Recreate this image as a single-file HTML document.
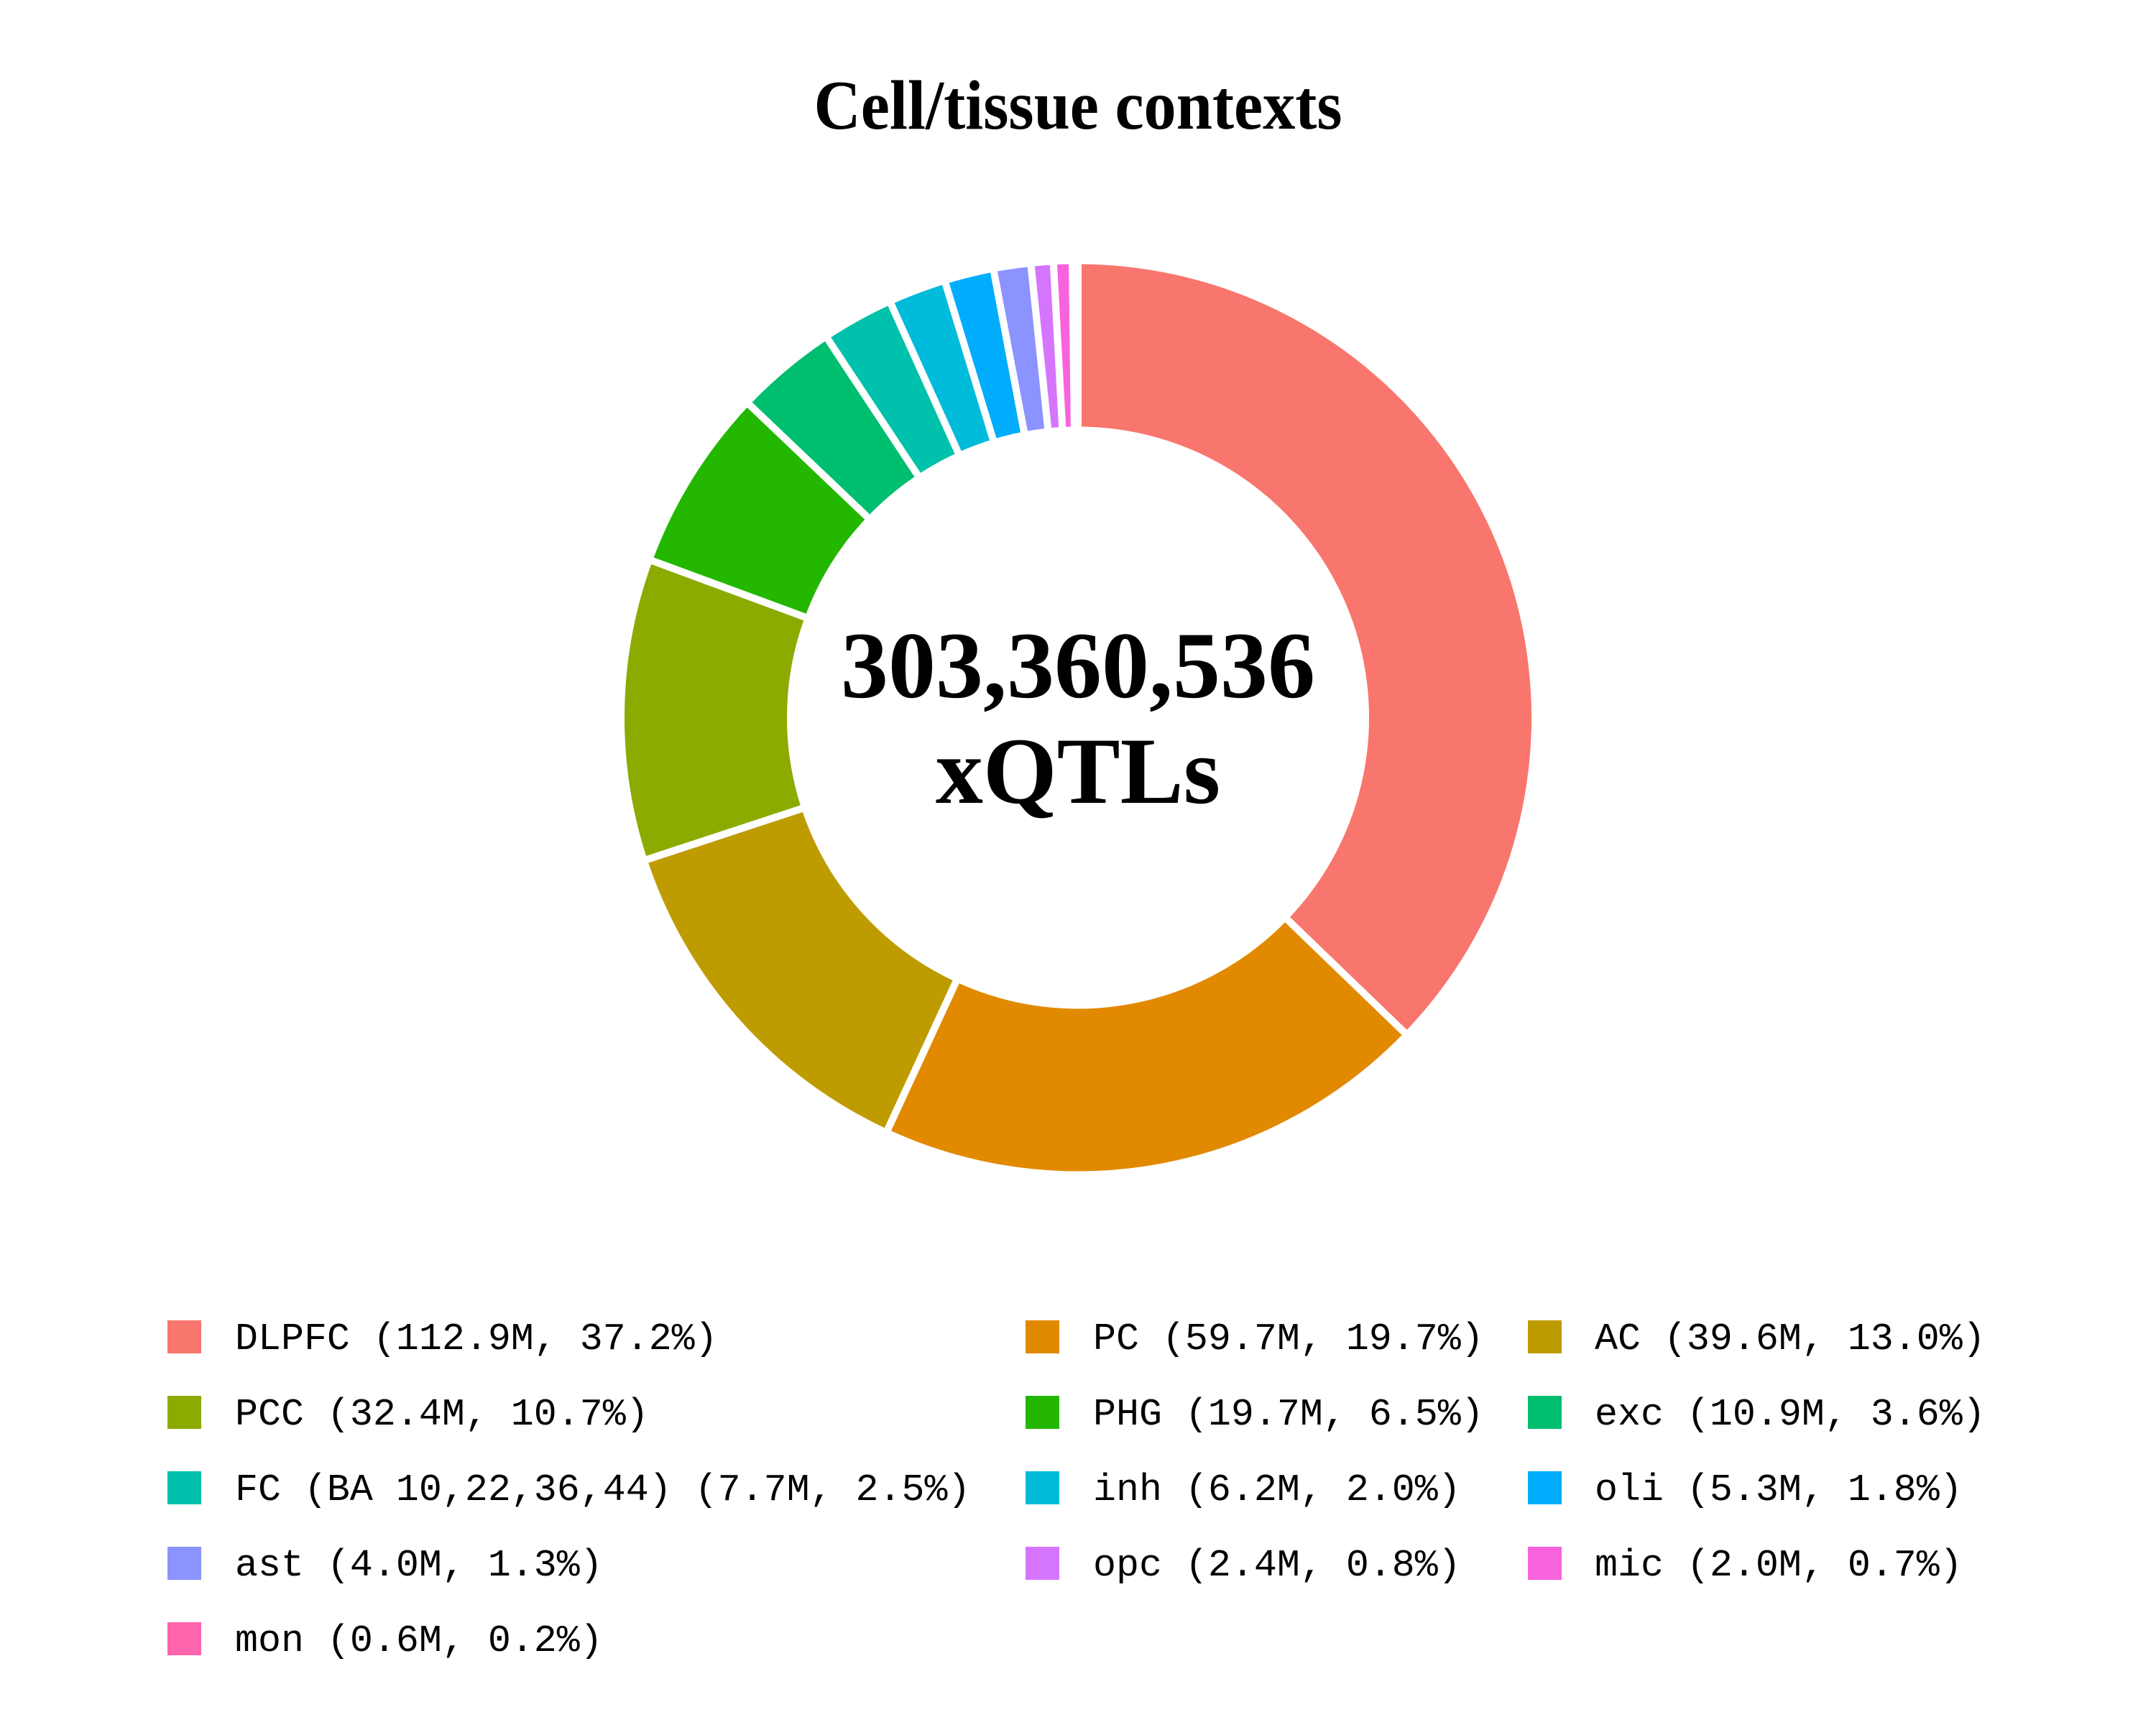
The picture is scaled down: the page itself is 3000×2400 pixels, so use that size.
<!DOCTYPE html>
<html><head><meta charset="utf-8"><style>
html,body{margin:0;padding:0;background:#fff;width:3000px;height:2400px;overflow:hidden}
.t{font-family:"Liberation Serif",serif;font-weight:bold;fill:#000}
.l{font-family:"Liberation Mono",monospace;font-size:53.3px;fill:#000}
</style></head><body>
<svg id="s" width="3000" height="2400" viewBox="0 0 3000 2400" xmlns="http://www.w3.org/2000/svg">
<rect width="3000" height="2400" fill="#fff"/>
<g id="donut"></g>
<text class="t" x="1500" y="179" font-size="97" text-anchor="middle" textLength="735" lengthAdjust="spacingAndGlyphs">Cell/tissue contexts</text>
<text class="t" x="1500" y="970" font-size="132" text-anchor="middle">303,360,536</text>
<text class="t" x="1500" y="1117" font-size="132" text-anchor="middle">xQTLs</text>
<g id="leg"></g>
</svg>
<script>
var d=[["DLPFC (112.9M, 37.2%)",112.9,"#F8766D"],["PC (59.7M, 19.7%)",59.7,"#E18A00"],["AC (39.6M, 13.0%)",39.6,"#BE9C00"],
["PCC (32.4M, 10.7%)",32.4,"#8CAB00"],["PHG (19.7M, 6.5%)",19.7,"#24B700"],["exc (10.9M, 3.6%)",10.9,"#00BE70"],
["FC (BA 10,22,36,44) (7.7M, 2.5%)",7.7,"#00C1AB"],["inh (6.2M, 2.0%)",6.2,"#00BBDA"],["oli (5.3M, 1.8%)",5.3,"#00ACFC"],
["ast (4.0M, 1.3%)",4.0,"#8B93FF"],["opc (2.4M, 0.8%)",2.4,"#D575FE"],["mic (2.0M, 0.7%)",2.0,"#F962DD"],["mon (0.6M, 0.2%)",0.6,"#FF65AC"]];
var tot=0;d.forEach(function(e){tot+=e[1]});
var cx=1500,cy=998.5,R=636,r=400,a=0,h="";
function p(rad,ang){return (cx+rad*Math.sin(ang)).toFixed(2)+","+(cy-rad*Math.cos(ang)).toFixed(2)}
d.forEach(function(e){
 var b=a+e[1]/tot*2*Math.PI,lg=(b-a)>Math.PI?1:0;
 h+='<path d="M'+p(R,a)+' A'+R+','+R+' 0 '+lg+' 1 '+p(R,b)+' L'+p(r,b)+' A'+r+','+r+' 0 '+lg+' 0 '+p(r,a)+' Z" fill="'+e[2]+'" stroke="#fff" stroke-width="10" stroke-linejoin="miter"/>';
 a=b;});
document.getElementById("donut").innerHTML=h;
var kx=[233,1427,2126],tx=[327,1521,2219],g="";
d.forEach(function(e,i){var c=i%3,rw=Math.floor(i/3),y=1837+rw*105;
 g+='<rect x="'+kx[c]+'" y="'+y+'" width="47" height="46" fill="'+e[2]+'"/>';
 g+='<text class="l" x="'+tx[c]+'" y="'+(y+40)+'">'+e[0]+'</text>';});
document.getElementById("leg").innerHTML=g;
</script>
</body></html>
